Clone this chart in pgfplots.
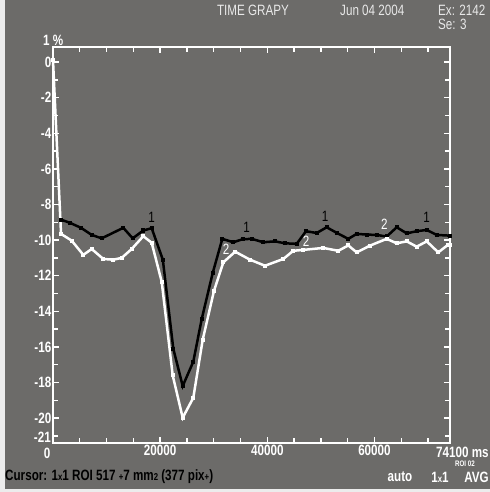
\documentclass[border=0pt]{standalone}
\usepackage{pgfplots}
\pgfplotsset{compat=1.18}
\usepackage{fontspec}
\setmainfont{Liberation Sans}[FakeStretch=0.78]
\definecolor{bg}{RGB}{108,107,105}
\definecolor{lt}{RGB}{236,236,236}
\definecolor{tt}{RGB}{232,232,232}
\begin{document}
\begin{tikzpicture}
\clip (-53bp,-49bp) rectangle (437bp,443bp);
\fill[bg] (-53bp,-49bp) rectangle (437bp,443bp);
\fill[lt] (-53bp,-49bp) rectangle (-48bp,443bp);
\fill[lt] (-53bp,-49bp) rectangle (437bp,-46bp);
\begin{axis}[at={(0,0)}, anchor=south west, scale only axis,
  width=397bp, height=396bp,
  xmin=0, xmax=74100, ymin=-21.4, ymax=0.85,
  axis line style={white, line width=1.6bp},
  xtick={20000,40000,60000}, minor xtick={5000,10000,...,70000},
  ytick={0,-2,...,-20}, minor ytick={-1,-3,...,-21},
  major tick length=6bp, minor tick length=5bp,
  every tick/.append style={white, line width=1.4bp},
  tick label style={font=\bfseries\fontsize{15}{15}\selectfont, text=white},
  /pgf/number format/assume math mode=true,
  scaled x ticks=false,
  xticklabel style={/pgf/number format/1000 sep={}, yshift=1bp},
  yticklabel style={inner sep=1.5bp},
  clip=false,
]
\addplot[black, line width=2.5bp, mark=square*, mark size=0.8pt] coordinates {
(1493,-8.85) (3173,-9.03) (5226,-9.31) (7223,-9.71) (9090,-9.90)
(13122,-9.31) (14876,-9.90) (16855,-9.46) (18422,-9.33) (20500,-11.1)
(22454,-16.1) (24208,-18.2) (26187,-16.83) (27755,-14.44) (29808,-11.85)
(31600,-9.93) (33653,-10.12) (35400,-9.95) (37087,-9.93) (39254,-10.12)
(41437,-10.07) (43303,-10.18) (45485,-10.21) (47222,-9.5) (49220,-9.6)
(51085,-9.28) (53000,-9.6) (55117,-9.93) (56685,-9.65) (58550,-9.69)
(60417,-9.71) (62285,-9.8) (64150,-9.28) (66020,-9.62) (67885,-9.5)
(69752,-9.43) (71618,-9.71) (74100,-9.75)
};
\addplot[white, line width=2.5bp, mark=square*, mark size=0.8pt] coordinates {
(0,0.1) (1500,-9.65) (3490,-10.03) (5656,-10.83) (7223,-10.50)
(9389,-11.06) (11255,-11.10) (12823,-11.0) (14690,-10.5) (16855,-9.78)
(18422,-10.15) (20289,-12.34) (22343,-17.6) (24208,-19.98) (26187,-18.86)
(27942,-15.6) (30050,-12.85) (31787,-11.25) (34000,-10.65) (36770,-11.1)
(39570,-11.44) (42986,-11.06) (44850,-10.6) (46720,-10.55) (50450,-10.44)
(53250,-10.6) (55117,-10.3) (56685,-10.69) (59166,-10.31) (62285,-9.93)
(64150,-10.18) (66020,-10.07) (67885,-10.37) (69752,-10.07) (71915,-10.69)
(73785,-10.25) (74100,-10.3)
};
\begin{scope}[font=\fontsize{15}{15}\selectfont]
\node[text=black] at (axis cs:18422,-8.7) {1};
\node[text=black] at (axis cs:36150,-9.3) {1};
\node[text=black] at (axis cs:50770,-8.65) {1};
\node[text=black] at (axis cs:69750,-8.75) {1};
\node[text=white] at (axis cs:32290,-10.5) {2};
\node[text=white] at (axis cs:47222,-10.05) {2};
\node[text=white] at (axis cs:61840,-9.1) {2};
\end{scope}
\end{axis}
% header texts
\begin{scope}[font=\fontsize{15}{15}\selectfont, text=tt]
\node at (200bp,433bp) {TIME GRAPY};
\node[anchor=west, inner sep=0pt] at (287bp,433bp) {Jun 04 2004};
\node[anchor=west, inner sep=0pt] at (385bp,433bp) {Ex: 2142};
\node[anchor=west, inner sep=0pt] at (385bp,419bp) {Se: 3};
\end{scope}
\begin{scope}[font=\bfseries\fontsize{15}{15}\selectfont, text=white]
\node[anchor=west, inner sep=0pt] at (-10bp,403bp) {1 \%};
\node[anchor=east, inner sep=0pt] at (-2bp,6bp) {-21};
\node[inner sep=0pt] at (-6bp,-10bp) {0};
\node[anchor=west, inner sep=0pt] at (383bp,-9bp) {74100 ms};
\node[inner sep=0pt, font=\bfseries\fontsize{8}{8}\selectfont] at (412bp,-21bp) {ROI 02};
\node[inner sep=0pt] at (347bp,-34bp) {auto};
\node[inner sep=0pt] at (387bp,-34bp) {1{\fontsize{10}{10}\selectfont x}1};
\node[anchor=east, inner sep=0pt] at (436bp,-34bp) {AVG};
\node[anchor=west, inner sep=0pt, text=black] at (-48bp,-34bp) {Cursor: 1{\fontsize{10}{10}\selectfont x}1 ROI 517 {\fontsize{10}{10}\selectfont +}7 mm{\fontsize{10}{10}\selectfont 2} (377 pix{\fontsize{10}{10}\selectfont +})};
\end{scope}
\end{tikzpicture}
\end{document}
